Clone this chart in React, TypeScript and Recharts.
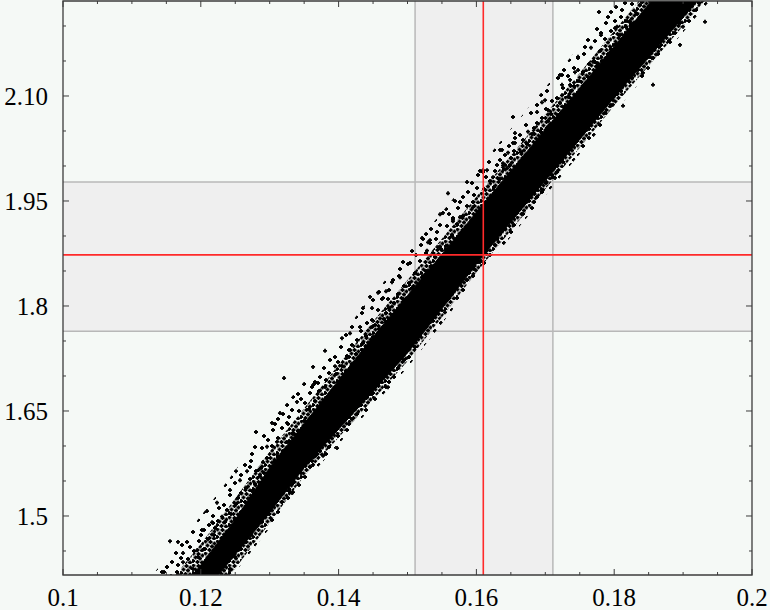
import React from 'react';
import {
  ComposedChart,
  XAxis,
  YAxis,
  Scatter,
  Area,
  ReferenceArea,
  ReferenceLine,
} from 'recharts';

// ---------- data ----------
// x positions at which the edges of the point cloud were read
const BAND_X = [0.11, 0.115, 0.12, 0.125, 0.13, 0.135, 0.14, 0.145, 0.15, 0.155, 0.16, 0.165, 0.17, 0.175, 0.18, 0.185, 0.19, 0.195];
// solid core of the cloud
const CORE_LOW = [1.25, 1.325, 1.385, 1.445, 1.505, 1.569, 1.624, 1.678, 1.733, 1.796, 1.86, 1.92, 1.979, 2.038, 2.098, 2.155, 2.212, 2.27];
const CORE_HIGH = [1.31, 1.37, 1.43, 1.495, 1.569, 1.632, 1.694, 1.756, 1.815, 1.874, 1.934, 1.993, 2.052, 2.111, 2.171, 2.231, 2.291, 2.351];
// densely dotted zone around the core
const DENSE_LOW = [1.23, 1.305, 1.365, 1.425, 1.49, 1.557, 1.612, 1.666, 1.721, 1.784, 1.848, 1.908, 1.967, 2.026, 2.086, 2.143, 2.2, 2.258];
const DENSE_HIGH = [1.34, 1.4, 1.46, 1.525, 1.592, 1.654, 1.716, 1.778, 1.837, 1.896, 1.956, 2.015, 2.074, 2.133, 2.193, 2.253, 2.313, 2.373];
// thinly dotted outer zone
const SPARSE_LOW = [1.225, 1.3, 1.36, 1.42, 1.483, 1.548, 1.603, 1.657, 1.712, 1.775, 1.839, 1.899, 1.958, 2.017, 2.077, 2.134, 2.191, 2.249];
const SPARSE_HIGH = [1.38, 1.44, 1.5, 1.565, 1.632, 1.692, 1.754, 1.816, 1.875, 1.934, 1.994, 2.053, 2.112, 2.171, 2.231, 2.291, 2.351, 2.411];

// scattered individual points around the cloud
const PTS_X = [
  0.11437, 0.11553, 0.11669, 0.1209, 0.12235, 0.12424, 0.12642, 0.13324, 0.13048, 0.11509,
  0.11742, 0.12017, 0.12177, 0.12511, 0.12801, 0.12671, 0.12569, 0.13208, 0.13149, 0.13033,
  0.12961, 0.12424, 0.12163, 0.13977, 0.13774, 0.13629, 0.13338, 0.13193, 0.12961, 0.13396,
  0.13629, 0.13251, 0.13338, 0.13106, 0.12714, 0.12903, 0.12859, 0.12308, 0.11945, 0.11742,
  0.15515, 0.15211, 0.15298, 0.15283, 0.15443, 0.1537, 0.15007, 0.14891, 0.14775, 0.14688,
  0.14572, 0.14456, 0.1463, 0.14717, 0.14354, 0.14485, 0.14311, 0.14485, 0.14166, 0.14049,
  0.14166, 0.13803, 0.13948, 0.13629, 0.13658, 0.13701, 0.14717, 0.15007, 0.15036, 0.15544,
  0.15428, 0.16052, 0.1566, 0.15762, 0.15951, 0.1656, 0.16343, 0.16459, 0.16052, 0.16154,
  0.15864, 0.15588, 0.15689, 0.15472, 0.1566, 0.15327, 0.16967, 0.17112, 0.16386, 0.16734,
  0.17242, 0.17242, 0.17359, 0.17475, 0.1775, 0.16952, 0.16996, 0.1688, 0.17242, 0.1733,
  0.16531, 0.1656, 0.16749, 0.16822, 0.16531, 0.16372, 0.16386, 0.16444, 0.16241, 0.16096,
  0.18563, 0.18128, 0.18418, 0.17983, 0.17141, 0.17068, 0.17039, 0.17779, 0.18186, 0.18229,
  0.17808, 0.17663, 0.17475, 0.17431, 0.17359, 0.17692, 0.17823, 0.19318, 0.18955, 0.18041,
  0.18374, 0.17213, 0.17286, 0.17257, 0.18316, 0.18012, 0.1881, 0.18999,
];
const PTS_Y = [
  1.42, 1.464, 1.463, 1.507, 1.519, 1.423, 1.463, 1.533, 1.517, 1.427,
  1.434, 1.48, 1.49, 1.564, 1.62, 1.564, 1.551, 1.697, 1.647, 1.633,
  1.599, 1.537, 1.491, 1.597, 1.586, 1.573, 1.534, 1.533, 1.509, 1.663,
  1.687, 1.633, 1.619, 1.606, 1.57, 1.577, 1.557, 1.499, 1.451, 1.447,
  1.933, 1.897, 1.891, 1.879, 1.884, 1.876, 1.86, 1.841, 1.834, 1.821,
  1.819, 1.813, 1.81, 1.81, 1.797, 1.797, 1.77, 1.77, 1.761, 1.754,
  1.737, 1.736, 1.714, 1.713, 1.69, 1.69, 1.684, 1.737, 1.746, 1.791,
  1.796, 1.863, 1.923, 1.927, 1.941, 2.033, 2.023, 2.019, 1.993, 1.994,
  1.977, 1.961, 1.95, 1.931, 1.921, 1.894, 1.966, 1.984, 2.001, 2.009,
  2.13, 2.116, 2.116, 2.137, 2.147, 2.091, 2.094, 2.077, 2.101, 2.099,
  2.07, 2.047, 2.049, 2.046, 2.033, 2.023, 2.004, 1.997, 1.984, 1.994,
  2.116, 2.086, 2.133, 2.094, 1.983, 2.059, 2.08, 2.22, 2.207, 2.207,
  2.187, 2.169, 2.156, 2.134, 2.123, 2.149, 2.151, 2.206, 2.173, 2.199,
  2.23, 2.13, 2.084, 2.07, 2.219, 2.197, 2.177, 2.199,
];

const X_TICKS = [0.1, 0.105, 0.11, 0.115, 0.12, 0.125, 0.13, 0.135, 0.14, 0.145, 0.15, 0.155, 0.16, 0.165, 0.17, 0.175, 0.18, 0.185, 0.19, 0.195, 0.2];
const X_MAJOR = [0.1, 0.12, 0.14, 0.16, 0.18, 0.2];
const X_LABELS = ['0.1', '0.12', '0.14', '0.16', '0.18', '0.2'];
const Y_TICKS = [1.45, 1.5, 1.55, 1.6, 1.65, 1.7, 1.75, 1.8, 1.85, 1.9, 1.95, 2.0, 2.05, 2.1, 2.15, 2.2];
const Y_MAJOR = [1.5, 1.65, 1.8, 1.95, 2.1];
const Y_LABELS = ['1.5', '1.65', '1.8', '1.95', '2.10'];

const X_DOMAIN: [number, number] = [0.1, 0.2];
const Y_DOMAIN: [number, number] = [1.4157, 2.2357];

const VBAND: [number, number] = [0.1511, 0.1711];
const HBAND: [number, number] = [1.764, 1.977];
const RED_X = 0.161;
const RED_Y = 1.873;

// ---------- layout / style ----------
const W = 770;
const H = 610;
const PLOT_LEFT = 63;
const PLOT_TOP = 1;
const PLOT_RIGHT = 752;
const PLOT_BOTTOM = 575;
const BG = '#f5f9f6';
const SHADE = '#efefef';
const GRAY_LINE = '#b8b8b8';
const RED = '#ff2a2a';
const FRAME = '#3c3c3c';
const FONT = '"Liberation Serif", "Times New Roman", serif';
const FONT_SIZE = 25;

const bandData = BAND_X.map((x, i) => ({
  x,
  core: [CORE_LOW[i], CORE_HIGH[i]],
  dense: [DENSE_LOW[i], DENSE_HIGH[i]],
  sparse: [SPARSE_LOW[i], SPARSE_HIGH[i]],
}));
const pointData = PTS_X.map((x, i) => ({ x, y: PTS_Y[i] }));

const findIdx = (arr: number[], v: number) => arr.findIndex((t) => Math.abs(t - v) < 1e-9);

const plusPath = (cx: number, cy: number) =>
  `M${cx - 2},${cy - 0.9}h4v1.8h-4z M${cx - 0.9},${cy - 2}h1.8v4h-1.8z`;

// dot positions inside the stipple tiles (style only)
const DENSE_TILE = 12;
const DENSE_DOTS: [number, number][] = [
  [1.5, 1.5], [6.5, 2], [10.5, 3.5], [3.5, 5.5], [8, 6.5], [1, 9], [5.5, 10], [10, 10.5],
];
const SPARSE_TILE = 37;
const SPARSE_DOTS: [number, number][] = [
  [3, 4], [13, 2], [24, 7], [33, 3], [8, 14], [19, 12], [29, 17], [2, 24], [14, 23],
  [23, 21], [34, 27], [9, 33], [19, 31], [28, 35], [16, 17], [5, 29], [30, 10],
];

const XTick = (props: any) => {
  const { x, payload } = props;
  const idx = findIdx(X_MAJOR, payload.value);
  const len = idx >= 0 ? 6 : 3;
  return (
    <g>
      <line x1={x} x2={x} y1={PLOT_BOTTOM} y2={PLOT_BOTTOM - len} stroke={FRAME} strokeWidth={1} />
      <line x1={x} x2={x} y1={PLOT_TOP} y2={PLOT_TOP + len} stroke={FRAME} strokeWidth={1} />
      {idx >= 0 && (
        <text x={x} y={606} textAnchor="middle" fontFamily={FONT} fontSize={FONT_SIZE} fill="#000">
          {X_LABELS[idx]}
        </text>
      )}
    </g>
  );
};

const YTick = (props: any) => {
  const { y, payload } = props;
  const idx = findIdx(Y_MAJOR, payload.value);
  const len = idx >= 0 ? 6 : 3;
  return (
    <g>
      <line x1={PLOT_LEFT} x2={PLOT_LEFT + len} y1={y} y2={y} stroke={FRAME} strokeWidth={1} />
      <line x1={PLOT_RIGHT} x2={PLOT_RIGHT - len} y1={y} y2={y} stroke={FRAME} strokeWidth={1} />
      {idx >= 0 && (
        <text x={48} y={y} dy="0.35em" textAnchor="end" fontFamily={FONT} fontSize={FONT_SIZE} fill="#000">
          {Y_LABELS[idx]}
        </text>
      )}
    </g>
  );
};

const PlusDot = (props: any) => {
  const { cx, cy } = props;
  if (cx == null || cy == null) return null;
  return <path d={plusPath(cx, cy)} fill="#000" />;
};

export default function App() {
  return (
    <div
      style={{
        position: 'absolute',
        left: 0,
        top: 0,
        width: W,
        height: H,
        background: BG,
        overflow: 'hidden',
      }}
    >
      <svg width={0} height={0} style={{ position: 'absolute' }}>
        <defs>
          <pattern id="stipDense" width={DENSE_TILE} height={DENSE_TILE} patternUnits="userSpaceOnUse">
            {DENSE_DOTS.map(([a, b], i) => (
              <path key={i} d={plusPath(a, b)} fill="#000" />
            ))}
          </pattern>
          <pattern id="stipSparse" width={SPARSE_TILE} height={SPARSE_TILE} patternUnits="userSpaceOnUse">
            {SPARSE_DOTS.map(([a, b], i) => (
              <path key={i} d={plusPath(a, b)} fill="#000" />
            ))}
          </pattern>
        </defs>
      </svg>
      <ComposedChart
        width={W}
        height={H}
        data={bandData}
        margin={{ top: PLOT_TOP, right: W - PLOT_RIGHT, bottom: 0, left: 0 }}
      >
        <XAxis
          dataKey="x"
          type="number"
          domain={X_DOMAIN}
          allowDataOverflow
          ticks={X_TICKS}
          interval={0}
          tick={(p: any) => <XTick {...p} />}
          tickLine={false}
          axisLine={false}
          height={H - PLOT_BOTTOM}
        />
        <YAxis
          dataKey="y"
          type="number"
          domain={Y_DOMAIN}
          allowDataOverflow
          ticks={Y_TICKS}
          interval={0}
          tick={(p: any) => <YTick {...p} />}
          tickLine={false}
          axisLine={false}
          width={PLOT_LEFT}
        />
        <ReferenceArea x1={VBAND[0]} x2={VBAND[1]} fill={SHADE} fillOpacity={1} stroke="none" zIndex={10} />
        <ReferenceArea y1={HBAND[0]} y2={HBAND[1]} fill={SHADE} fillOpacity={1} stroke="none" zIndex={10} />
        <ReferenceLine x={VBAND[0]} stroke={GRAY_LINE} strokeWidth={1.5} zIndex={20} />
        <ReferenceLine x={VBAND[1]} stroke={GRAY_LINE} strokeWidth={1.5} zIndex={20} />
        <ReferenceLine y={HBAND[0]} stroke={GRAY_LINE} strokeWidth={1.5} zIndex={20} />
        <ReferenceLine y={HBAND[1]} stroke={GRAY_LINE} strokeWidth={1.5} zIndex={20} />
        <Area
          dataKey="sparse"
          type="linear"
          stroke="none"
          fill="url(#stipSparse)"
          fillOpacity={1}
          isAnimationActive={false}
          dot={false}
          activeDot={false}
          zIndex={30}
        />
        <Area
          dataKey="dense"
          type="linear"
          stroke="none"
          fill="url(#stipDense)"
          fillOpacity={1}
          isAnimationActive={false}
          dot={false}
          activeDot={false}
          zIndex={40}
        />
        <Area
          dataKey="core"
          type="linear"
          stroke="#000"
          strokeWidth={1}
          fill="#000"
          fillOpacity={1}
          isAnimationActive={false}
          dot={false}
          activeDot={false}
          zIndex={50}
        />
        <Scatter data={pointData} shape={(p: any) => <PlusDot {...p} />} isAnimationActive={false} zIndex={60} />
        <ReferenceLine x={RED_X} stroke={RED} strokeWidth={1.6} zIndex={70} />
        <ReferenceLine y={RED_Y} stroke={RED} strokeWidth={1.6} zIndex={70} />
        <ReferenceArea
          x1={X_DOMAIN[0]}
          x2={X_DOMAIN[1]}
          y1={Y_DOMAIN[0]}
          y2={Y_DOMAIN[1]}
          fill="none"
          stroke={FRAME}
          strokeWidth={1.3}
          zIndex={80}
        />
      </ComposedChart>
    </div>
  );
}
